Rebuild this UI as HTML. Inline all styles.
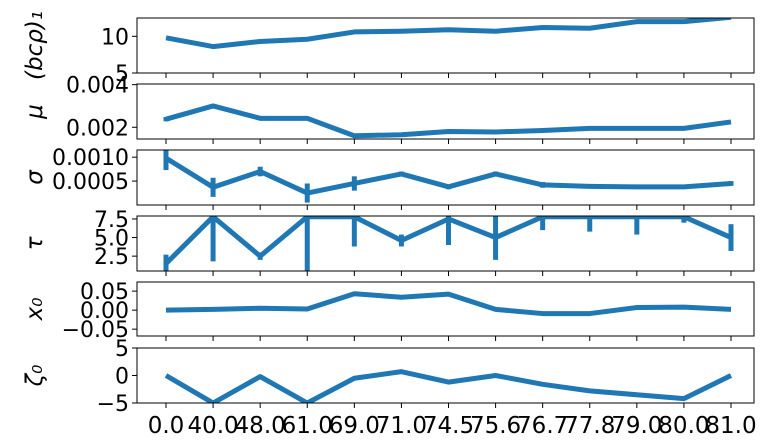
<!DOCTYPE html>
<html><head><meta charset="utf-8"><style>
body{margin:0;background:#fff}
svg{display:block;font-family:"DejaVu Sans","Liberation Sans",sans-serif}
</style></head><body>
<svg id="c" width="766" height="447"></svg>
<script>
const categories=["0.0","40.0","48.0","61.0","69.0","71.0","74.5","75.6","76.7","77.8","79.0","80.0","81.0"];
const bcRho=[9.8,8.6,9.3,9.6,10.6,10.7,10.9,10.7,11.2,11.1,12,12,12.6];
const bcRhoErr=[0,0,0,0,0,0,0,0,0,0,0,0,0];
const mu=[0.00238,0.0030,0.00242,0.00242,0.00160,0.00165,0.00180,0.00178,0.00185,0.00195,0.00195,0.00195,0.00225];
const muErr=[0.0001,0,0,0,0,0,0,0,0,0,0,0,0];
const sigma=[0.00098,0.00037,0.0007,0.00025,0.00045,0.00065,0.00038,0.00065,0.00042,0.00039,0.00038,0.00038,0.00045];
const sigmaErr=[0.00025,0.0002,0.0001,0.0002,0.00015,0.00005,0.00005,0.00005,0.00006,0.00003,0.00003,0.00003,0.00005];
const tau=[1.5,7.8,2.5,7.8,7.8,4.6,7.5,5.0,7.8,7.8,7.8,7.8,5.0];
const tauErr=[1.2,6,0.5,7.5,4,0.8,3.5,3,1.8,2,2.4,0.8,1.8];
const x0=[0,0.002,0.005,0.003,0.043,0.034,0.042,0.002,-0.009,-0.009,0.007,0.008,0.002];
const x0Err=[0,0,0,0,0,0,0,0,0,0,0,0,0];
const zeta0=[0,-5,-0.2,-5,-0.5,0.7,-1.2,0,-1.6,-2.8,-3.5,-4.2,0];
const zeta0Err=[0,0,0,0,0,0,0,0,0,0,0,0,0];
const panels=[
 {name:"bc-rho",title:"(bcρ)₁",vals:bcRho,err:bcRhoErr,top:18,bot:73,min:5,max:12.5,ticks:[5,10],fmt:v=>String(v)},
 {name:"mu",title:"μ",vals:mu,err:muErr,top:84,bot:139,min:0.00145,max:0.00403,ticks:[0.002,0.004],fmt:v=>v.toFixed(3)},
 {name:"sigma",title:"σ",vals:sigma,err:sigmaErr,top:150,bot:205,min:0,max:0.00115,ticks:[0.0005,0.0010],fmt:v=>v.toFixed(4)},
 {name:"tau",title:"τ",vals:tau,err:tauErr,top:216,bot:271,min:0.5,max:7.9,ticks:[2.5,5.0,7.5],fmt:v=>v.toFixed(1)},
 {name:"x0",title:"x₀",vals:x0,err:x0Err,top:282,bot:336,min:-0.068,max:0.074,ticks:[-0.05,0,0.05],fmt:v=>(v<0?"−":"")+Math.abs(v).toFixed(2)},
 {name:"zeta0",title:"ζ₀",vals:zeta0,err:zeta0Err,top:348,bot:403,min:-5,max:5,ticks:[-5,0,5],fmt:v=>(v<0?"−":"")+Math.abs(v)}
];
const L=137,R=754,NS="http://www.w3.org/2000/svg";
const svg=document.getElementById("c");
function xs(i){return 166+i*(731-166)/(categories.length-1);}
function mk(t,a,p){const e=document.createElementNS(NS,t);for(const k in a)e.setAttribute(k,a[k]);(p||svg).appendChild(e);return e;}
panels.forEach((p,pi)=>{
 const ys=v=>p.bot-(v-p.min)/(p.max-p.min)*(p.bot-p.top);
 const g=mk("g",{});
 
 
 const cid="clip"+pi;
 const cp=mk("clipPath",{id:cid},g);mk("rect",{x:L,y:p.top,width:R-L,height:p.bot-p.top},cp);
 const dg=mk("g",{"clip-path":"url(#"+cid+")"},g);
 let d="";p.vals.forEach((v,i)=>{d+=(i?"L":"M")+xs(i)+","+ys(v);});
 const line=mk("path",{d:d,fill:"none",stroke:"#1f77b4","stroke-width":5,"stroke-linejoin":"round"},dg);
 
 
 p.vals.forEach((v,i)=>{if(p.err[i]>0){
  const eb=mk("line",{x1:xs(i),x2:xs(i),y1:ys(v-p.err[i]),y2:ys(v+p.err[i]),stroke:"#1f77b4","stroke-width":5},dg);
  
  
 }});
 const fr=mk("rect",{x:L,y:p.top,width:R-L,height:p.bot-p.top,fill:"none",stroke:"#000","stroke-width":1},g);
 
 
 p.ticks.forEach(t=>{const y=ys(t);
  mk("line",{x1:L-5,x2:L,y1:y,y2:y,stroke:"#000"},g);
  const tx=mk("text",{x:L-8,y:y+8,"text-anchor":"end","font-size":22},g);tx.textContent=p.fmt(t);
  
  
 });
 categories.forEach((c,i)=>mk("line",{x1:xs(i),x2:xs(i),y1:p.bot,y2:p.bot+5,stroke:"#000"},g));
 const ty=mk("text",{transform:"translate(42,"+((p.top+p.bot)/2)+") rotate(-90)","text-anchor":"middle","font-size":23,"font-style":"italic"},g);
 ty.textContent=p.title;
 
 
});
categories.forEach((c,i)=>{
 const t=mk("text",{x:xs(i),y:433,"text-anchor":"middle","font-size":23});t.textContent=c;
 
 
});
</script>
</body></html>
